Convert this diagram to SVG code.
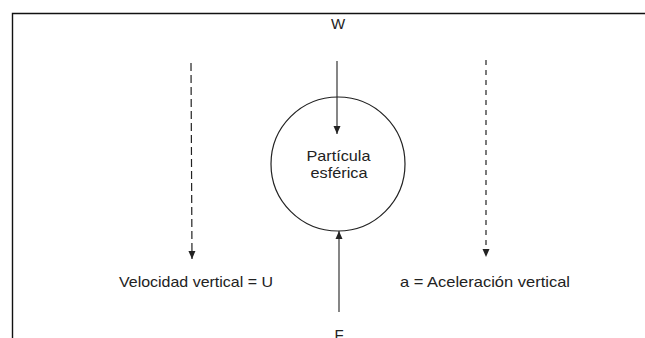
<svg xmlns="http://www.w3.org/2000/svg" width="645" height="338" viewBox="0 0 645 338">
<style>
  text { font-family: "Liberation Sans", Arial, sans-serif; fill: #222; }
  .lbl { font-size: 15px; }
  .frame { fill: none; stroke: #111; stroke-width: 1.4; }
  .force { stroke: #222; stroke-width: 1.1; fill: none; }
  .dashL { stroke: #222; stroke-width: 1.2; fill: none; stroke-dasharray: 8 4; }
  .dashR { stroke: #222; stroke-width: 1.2; fill: none; stroke-dasharray: 5 5; }
  .particle { fill: none; stroke: #222; stroke-width: 1.2; }
</style>
<defs>
  <marker id="arrow" viewBox="0 0 8 10" refX="8" refY="5" markerWidth="8" markerHeight="10" markerUnits="userSpaceOnUse" orient="auto">
    <path d="M0,1.5 L8,5 L0,8.5 Z" fill="#222"/>
  </marker>
</defs>
<rect width="645" height="338" fill="#fff"/>
<path class="frame" d="M12.5,345 V13.5 H650"/>

<g id="particle">
  <circle class="particle" cx="338" cy="164" r="67"/>
  <text class="lbl" x="338.5" y="161" text-anchor="middle" textLength="64" lengthAdjust="spacingAndGlyphs">Partícula</text>
  <text class="lbl" x="339" y="178" text-anchor="middle" textLength="57" lengthAdjust="spacingAndGlyphs">esférica</text>
</g>

<g id="label-W">
  <text class="lbl" x="338" y="29" text-anchor="middle">W</text>
</g>

<g id="label-F">
  <text class="lbl" x="339" y="340" text-anchor="middle">F</text>
</g>

<g id="label-velocidad">
  <text class="lbl" x="119" y="287" textLength="154" lengthAdjust="spacingAndGlyphs">Velocidad vertical = U</text>
</g>

<g id="label-aceleracion">
  <text class="lbl" x="400" y="287" textLength="170" lengthAdjust="spacingAndGlyphs">a = Aceleración vertical</text>
</g>

<g id="connectors">
  <line id="arrow-W" class="force" x1="337" y1="61" x2="337" y2="134" marker-end="url(#arrow)"/>
  <line id="arrow-F" class="force" x1="339" y1="312" x2="339" y2="231" marker-end="url(#arrow)"/>
  <line id="arrow-U" class="dashL" x1="191" y1="63" x2="192" y2="259" marker-end="url(#arrow)"/>
  <line id="arrow-a" class="dashR" x1="486" y1="60" x2="486" y2="257" marker-end="url(#arrow)"/>
</g>
</svg>
